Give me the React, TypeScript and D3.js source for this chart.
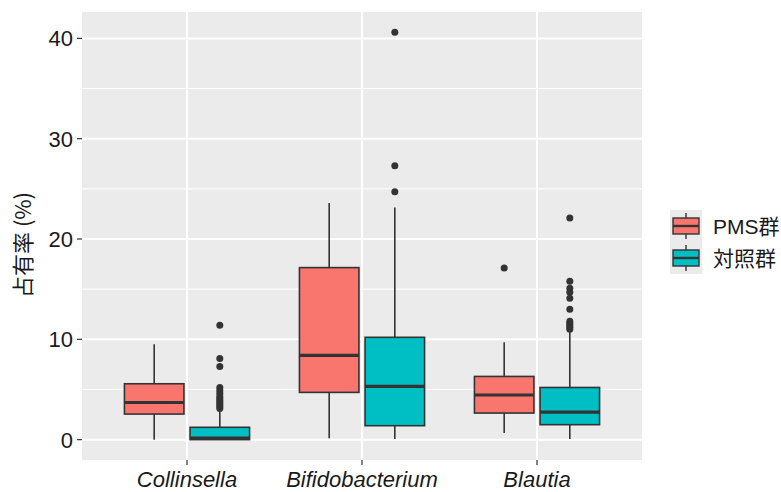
import React from "react";
import * as d3 from "d3";

const categories = ["Collinsella", "Bifidobacterium", "Blautia"];
const groups = ["PMS群", "対照群"];
const groupColors = ["#F8766D", "#00BFC4"];

// five-number summaries per category: [whiskerLow, q1, median, q3, whiskerHigh]
const pmsStats = [
  [0.0, 2.55, 3.7, 5.57, 9.5],
  [0.13, 4.71, 8.39, 17.15, 23.6],
  [0.66, 2.65, 4.45, 6.3, 9.72],
];
const ctrlStats = [
  [0.0, 0.0, 0.15, 1.23, 2.8],
  [0.07, 1.39, 5.3, 10.2, 23.15],
  [0.07, 1.49, 2.75, 5.2, 10.7],
];
const pmsOutliers = [[], [], [17.1]];
const ctrlOutliers = [
  [11.4, 8.1, 7.3, 5.2, 4.9, 4.6, 4.3, 4.1, 3.9, 3.7, 3.5, 3.3, 3.1],
  [40.6, 27.3, 24.7],
  [22.1, 15.8, 15.1, 14.7, 14.1, 13.0, 11.8, 11.6, 11.4, 11.2, 11.0],
];
const yTicks = [0, 10, 20, 30, 40];
const yMinor = [5, 15, 25, 35];

const W = 781;
const H = 492;
const panel = { left: 82, right: 642, top: 12, bottom: 460 };
const font = "'Liberation Sans', Arial, 'Noto Sans CJK JP', sans-serif";
const cjk = "'Noto Sans CJK JP', 'Liberation Sans', sans-serif";

export default function App() {
  const y = d3.scaleLinear().domain([-2.03, 42.63]).range([panel.bottom, panel.top]);
  const x = d3.scalePoint<string>().domain(categories).range([panel.left, panel.right]).padding(0.6);
  const step = x.step();
  const offsets = [-0.1875 * step, 0.1875 * step];
  const boxW = 0.34 * step;
  const allStats = [pmsStats, ctrlStats];
  const allOut = [pmsOutliers, ctrlOutliers];
  const line = "#333333";

  return (
    <svg width={W} height={H} style={{ position: "absolute", left: 0, top: 0, background: "#fff" }}>
      <rect x={panel.left} y={panel.top} width={panel.right - panel.left} height={panel.bottom - panel.top} fill="#EBEBEB" />
      {yMinor.map((t) => (
        <line key={"mn" + t} x1={panel.left} x2={panel.right} y1={y(t)} y2={y(t)} stroke="#fff" strokeWidth={1} />
      ))}
      {yTicks.map((t) => (
        <line key={"mj" + t} x1={panel.left} x2={panel.right} y1={y(t)} y2={y(t)} stroke="#fff" strokeWidth={2} />
      ))}
      {categories.map((c) => (
        <line key={"vx" + c} x1={x(c)} x2={x(c)} y1={panel.top} y2={panel.bottom} stroke="#fff" strokeWidth={2} />
      ))}

      {categories.map((c, ci) =>
        groups.map((g, gi) => {
          const s = allStats[gi][ci];
          const cx = (x(c) as number) + offsets[gi];
          return (
            <g key={c + g}>
              <line x1={cx} x2={cx} y1={y(s[3])} y2={y(s[4])} stroke={line} strokeWidth={1.6} />
              <line x1={cx} x2={cx} y1={y(s[1])} y2={y(s[0])} stroke={line} strokeWidth={1.6} />
              <rect
                x={cx - boxW / 2}
                y={y(s[3])}
                width={boxW}
                height={y(s[1]) - y(s[3])}
                fill={groupColors[gi]}
                stroke={line}
                strokeWidth={1.6}
              />
              <line x1={cx - boxW / 2} x2={cx + boxW / 2} y1={y(s[2])} y2={y(s[2])} stroke={line} strokeWidth={3.2} />
              {allOut[gi][ci].map((v, k) => (
                <circle key={k} cx={cx} cy={y(v)} r={3.5} fill={line} />
              ))}
            </g>
          );
        })
      )}

      {yTicks.map((t) => (
        <g key={"yt" + t}>
          <line x1={panel.left - 5} x2={panel.left} y1={y(t)} y2={y(t)} stroke={line} strokeWidth={1.2} />
          <text x={panel.left - 9} y={y(t)} dy="0.36em" textAnchor="end" fontFamily={font} fontSize={22} fill="#1a1a1a">
            {t}
          </text>
        </g>
      ))}
      {categories.map((c) => (
        <g key={"xt" + c}>
          <line x1={x(c)} x2={x(c)} y1={panel.bottom} y2={panel.bottom + 5} stroke={line} strokeWidth={1.2} />
          <text x={x(c)} y={487} textAnchor="middle" fontFamily={font} fontStyle="italic" fontSize={22} fill="#1a1a1a">
            {c}
          </text>
        </g>
      ))}

      <text
        transform={`translate(31,245) rotate(-90)`}
        textAnchor="middle"
        fontFamily={cjk}
        fontSize={22}
        fill="#1a1a1a"
      >
        占有率 (%)
      </text>

      {groups.map((g, gi) => {
        const ky = 210 + gi * 32;
        const kcx = 686;
        return (
          <g key={"lg" + g}>
            <rect x={670} y={ky} width={32} height={32} fill="#EBEBEB" />
            <line x1={kcx} x2={kcx} y1={ky + 3} y2={ky + 29} stroke={line} strokeWidth={1.4} />
            <rect x={673} y={ky + 8} width={26} height={16} fill={groupColors[gi]} stroke={line} strokeWidth={1.4} />
            <line x1={673} x2={699} y1={ky + 16} y2={ky + 16} stroke={line} strokeWidth={2.4} />
            <text x={713} y={ky + 16} dy="0.36em" fontFamily={font} fontSize={21} fill="#1a1a1a">
              {g}
            </text>
          </g>
        );
      })}
    </svg>
  );
}
